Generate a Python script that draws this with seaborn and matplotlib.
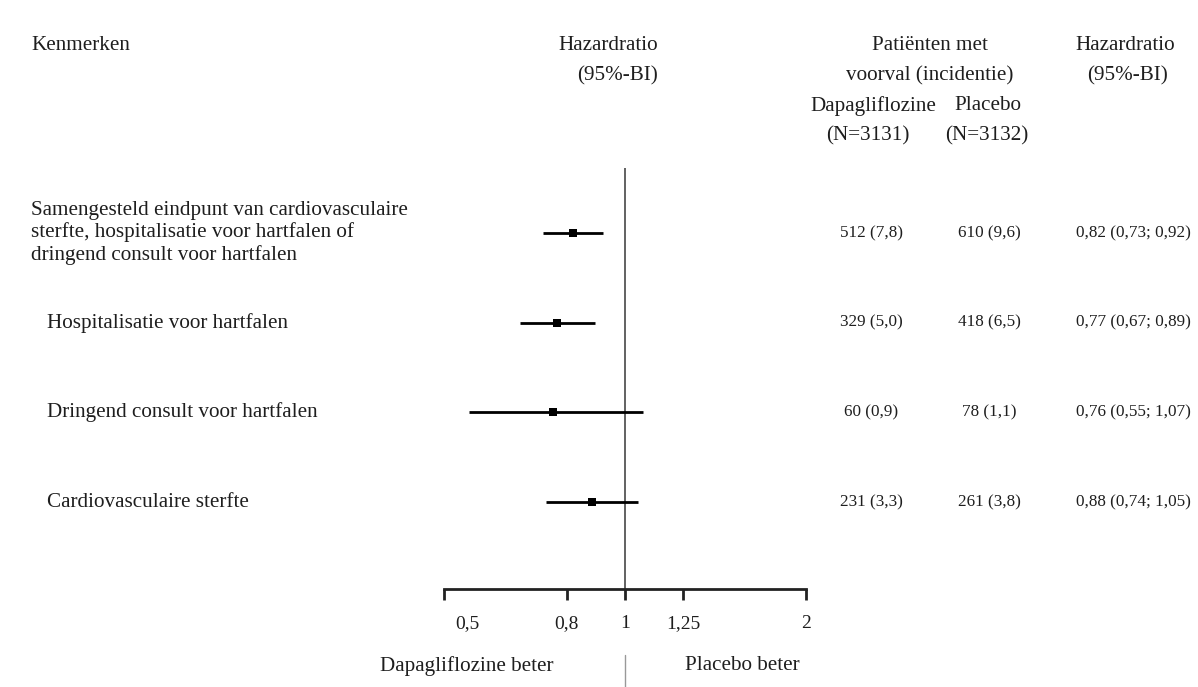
import matplotlib
matplotlib.use("Agg")
import matplotlib.pyplot as plt
import matplotlib.transforms as mtransforms
from matplotlib.lines import Line2D
from matplotlib.ticker import FixedLocator, NullLocator, FixedFormatter
import seaborn as sns
import pandas as pd

# ---- data -------------------------------------------------------------
labels = [
    "Samengesteld eindpunt van cardiovasculaire\nsterfte, hospitalisatie voor hartfalen of\ndringend consult voor hartfalen",
    "Hospitalisatie voor hartfalen",
    "Dringend consult voor hartfalen",
    "Cardiovasculaire sterfte",
]
label_indent = [False, True, True, True]
hr = [0.82, 0.77, 0.76, 0.88]
ci_low = [0.73, 0.67, 0.55, 0.74]
ci_high = [0.92, 0.89, 1.07, 1.05]
dapa_n = [512, 329, 60, 231]
dapa_pct = [7.8, 5.0, 0.9, 3.3]
placebo_n = [610, 418, 78, 261]
placebo_pct = [9.6, 6.5, 1.1, 3.8]
tick_values = [0.5, 0.8, 1, 1.25, 2]
tick_labels = ["0,5", "0,8", "1", "1,25", "2"]

df = pd.DataFrame({"row": range(len(hr)), "hr": hr, "lo": ci_low, "hi": ci_high})

def nl(v, d):
    return f"{v:.{d}f}".replace(".", ",")

# ---- figure -----------------------------------------------------------
W, H = 1198, 687
sns.set_theme(style="white")
plt.rcParams["font.family"] = ["Liberation Serif", "DejaVu Serif"]
TXT = "#1e1e1e"
FS = 15.2      # headers and row labels
FS_VAL = 12.3  # table values

fig = plt.figure(figsize=(W / 100, H / 100), dpi=100)
fig.patch.set_facecolor("white")

def fx(px):
    return px / W

def fy(py):
    return 1 - py / H

# forest axes: spans x 0.5..2 (log) and from the reference line top to the axis
ax_left, ax_right, ax_top, ax_bot = 444, 806, 168, 589
row0, row_step = 233, 89.7
ax = fig.add_axes([fx(ax_left), fy(ax_bot), fx(ax_right - ax_left), (ax_bot - ax_top) / H])
ax.set_facecolor("none")
ax.set_xscale("log", base=2)
ax.set_xlim(0.5, 2)
ax.set_ylim((ax_bot - row0) / row_step, (ax_top - row0) / row_step)

# confidence intervals and point estimates
ax.hlines(df["row"], df["lo"], df["hi"], color="black", lw=2.0, zorder=3)
sns.scatterplot(data=df, x="hr", y="row", marker="s", color="black", s=28,
                linewidth=0, ax=ax, zorder=4, legend=False)

# line of no effect
ax.axvline(1, color="#555555", lw=1.3, zorder=2)

# axis styling
for s in ["left", "right", "top"]:
    ax.spines[s].set_visible(False)
ax.spines["bottom"].set_color("#222222")
ax.spines["bottom"].set_linewidth(2.0)
ax.yaxis.set_visible(False)
ax.xaxis.set_major_locator(FixedLocator(tick_values))
ax.xaxis.set_major_formatter(FixedFormatter(tick_labels))
ax.xaxis.set_minor_locator(NullLocator())
ax.tick_params(axis="x", direction="out", length=8, width=2.0, color="#222222",
               labelsize=14, labelcolor=TXT, pad=11, bottom=True)
ax.set_xlabel("")
ax.set_ylabel("")
# first tick label sits slightly to the right of its tick
first = ax.get_xticklabels()[0]
first.set_transform(first.get_transform() +
                    mtransforms.ScaledTranslation(0.23, 0, fig.dpi_scale_trans))

# ---- row texts --------------------------------------------------------
row_tr = mtransforms.blended_transform_factory(fig.transFigure, ax.transData)
for i, lab in enumerate(labels):
    x = 47 if label_indent[i] else 31
    fig.text(fx(x), i, lab, transform=row_tr, ha="left", va="center",
             fontsize=FS, color=TXT, linespacing=1.18)
    fig.text(fx(871), i, f"{dapa_n[i]} ({nl(dapa_pct[i], 1)})", transform=row_tr,
             ha="center", va="center", fontsize=FS_VAL, color=TXT)
    fig.text(fx(989), i, f"{placebo_n[i]} ({nl(placebo_pct[i], 1)})", transform=row_tr,
             ha="center", va="center", fontsize=FS_VAL, color=TXT)
    fig.text(fx(1133), i, f"{nl(hr[i], 2)} ({nl(ci_low[i], 2)}; {nl(ci_high[i], 2)})",
             transform=row_tr, ha="center", va="center", fontsize=FS_VAL, color=TXT)

# ---- headers ----------------------------------------------------------
hdr = dict(fontsize=FS, color=TXT, va="center")
fig.text(fx(31), fy(45), "Kenmerken", ha="left", **hdr)
fig.text(fx(658), fy(45), "Hazardratio", ha="right", **hdr)
fig.text(fx(658), fy(76), "(95%-BI)", ha="right", **hdr)
fig.text(fx(930), fy(45), "Patiënten met", ha="center", **hdr)
fig.text(fx(930), fy(76), "voorval (incidentie)", ha="center", **hdr)
fig.text(fx(873), fy(106), "Dapagliflozine", ha="center", **hdr)
fig.text(fx(988), fy(106), "Placebo", ha="center", **hdr)
fig.text(fx(868), fy(136), "(N=3131)", ha="center", **hdr)
fig.text(fx(987), fy(136), "(N=3132)", ha="center", **hdr)
fig.text(fx(1125), fy(45), "Hazardratio", ha="center", **hdr)
fig.text(fx(1128), fy(76), "(95%-BI)", ha="center", **hdr)

# ---- direction labels -------------------------------------------------
fig.text(fx(553), fy(666), "Dapagliflozine beter", ha="right", **hdr)
fig.text(fx(685), fy(666), "Placebo beter", ha="left", **hdr)
sep_tr = mtransforms.blended_transform_factory(ax.transData, fig.transFigure)
fig.add_artist(Line2D([1, 1], [fy(655), fy(687)], transform=sep_tr,
                      color="#999999", lw=1.0))

fig.savefig("out.png", dpi=100, facecolor="white")
